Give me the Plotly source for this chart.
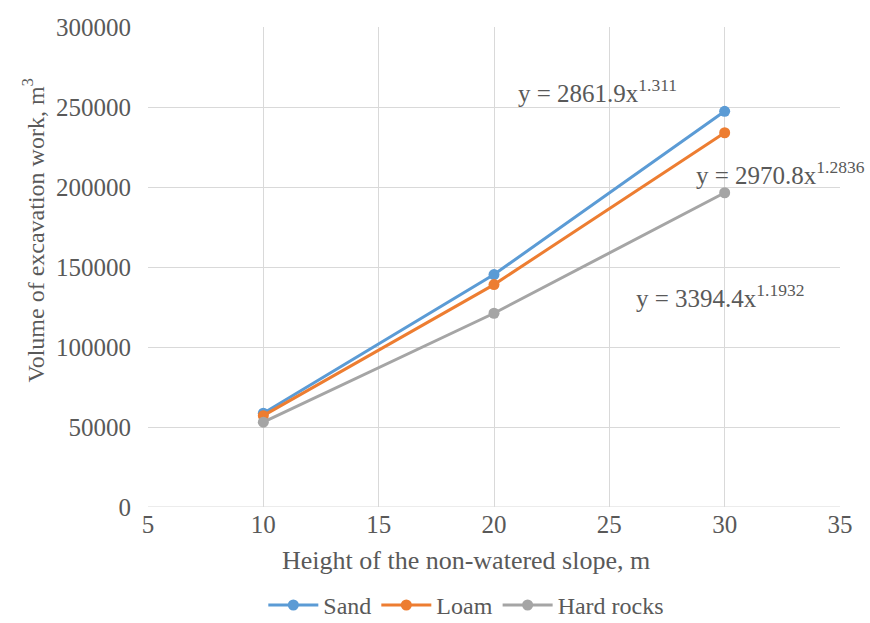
import plotly.graph_objects as go

heights = [10, 20, 30]
sand = [58600, 145300, 247300]
loam = [57100, 139000, 233900]
hard_rocks = [53000, 121100, 196400]

series = [
    ("Sand", sand, "#5B9BD5"),
    ("Loam", loam, "#ED7D31"),
    ("Hard rocks", hard_rocks, "#A5A5A5"),
]

equations = [
    ("y = 2861.9x<sup>1.311</sup>", 24.5, 260000),
    ("y = 2970.8x<sup>1.2836</sup>", 32.4, 208500),
    ("y = 3394.4x<sup>1.1932</sup>", 29.8, 132000),
]

FONT = "Liberation Serif"
TXT = "#595959"
GRID = "#D9D9D9"

fig = go.Figure()
for name, vals, color in series:
    fig.add_trace(go.Scatter(
        x=heights, y=vals, name=name, mode="lines+markers",
        line=dict(color=color, width=3),
        marker=dict(color=color, size=11),
    ))

for text, x, y in equations:
    fig.add_annotation(x=x, y=y, text=text, showarrow=False,
                       font=dict(family=FONT, size=25, color=TXT))

# axis titles placed as free text
fig.add_annotation(xref="paper", yref="paper", x=0.46, y=-0.146,
                   text="Height of the non-watered slope, m", showarrow=False,
                   font=dict(family=FONT, size=26, color=TXT))
fig.add_annotation(xref="paper", yref="paper", x=-0.19, y=0.577, textangle=-90,
                   text="Volume of excavation work, m<sup>3</sup>", showarrow=False,
                   font=dict(family=FONT, size=24, color=TXT))

fig.update_layout(
    width=870, height=623,
    margin=dict(l=148, r=30, t=27, b=116, autoexpand=False),
    paper_bgcolor="white", plot_bgcolor="white",
    font=dict(family=FONT, size=24, color=TXT),
    showlegend=True,
    legend=dict(orientation="h", x=0.46, xanchor="center", y=-0.205, yanchor="middle",
                font=dict(family=FONT, size=24, color=TXT), itemwidth=50,
                tracegroupgap=0),
    xaxis=dict(
        range=[5, 35], dtick=5, tick0=5,
        showgrid=True, gridcolor=GRID, gridwidth=1,
        zeroline=False, showline=False,
        tickfont=dict(family=FONT, size=25, color=TXT),
    ),
    yaxis=dict(
        range=[0, 300000], dtick=50000,
        showgrid=True, gridcolor=GRID, gridwidth=1,
        zeroline=False, showline=False,
        tickformat="d",
        tickfont=dict(family=FONT, size=25, color=TXT),
        ticklabelstandoff=16,
    ),
)
fig.add_shape(type="line", xref="paper", yref="y", x0=0, x1=1, y0=0, y1=0,
              line=dict(color=GRID, width=1), layer="below")

fig.write_html("out.html")
